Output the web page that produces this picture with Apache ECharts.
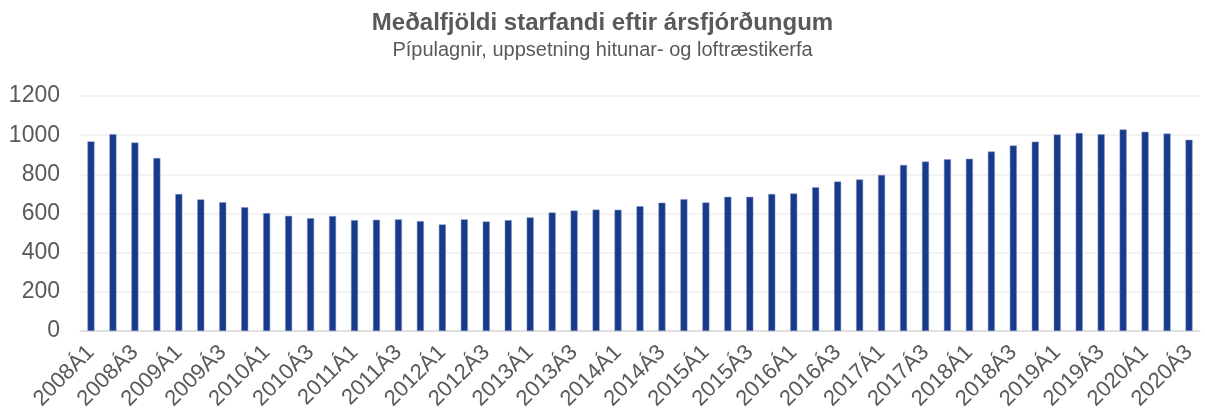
<!DOCTYPE html>
<html>
<head>
<meta charset="utf-8">
<script src="https://cdn.jsdelivr.net/npm/echarts@6/dist/echarts.min.js"></script>
<style>
  html, body { margin: 0; padding: 0; background: #fff; }
  #chart { width: 1205px; height: 418px; }
</style>
</head>
<body>
<div id="chart"></div>
<script>
const years = [2008, 2009, 2010, 2011, 2012, 2013, 2014, 2015, 2016, 2017, 2018, 2019, 2020];
const quarters = [];
years.forEach((y) => {
  for (let q = 1; q <= 4; q++) {
    if (y === 2020 && q > 3) break;
    quarters.push(y + "Á" + q);
  }
});

const employed = [
  968, 1005, 962, 883,
  699, 672, 658, 632,
  602, 588, 576, 587,
  566, 568, 570, 561,
  544, 570, 559, 566,
  580, 605, 615, 620,
  619, 637, 655, 673,
  656, 685, 685, 700,
  702, 734, 763, 774,
  797, 848, 865, 877,
  879, 916, 947, 967,
  1003, 1011, 1005, 1029,
  1017, 1008, 976,
];

const yTicks = [0, 200, 400, 600, 800, 1000, 1200];

const chart = echarts.init(document.getElementById("chart"));

const textColor = "#595959";
const font = "Liberation Sans, Arial, sans-serif";

const option = {
  backgroundColor: "#fff",
  animation: false,
  title: {
    text: "Meðalfjöldi starfandi eftir ársfjórðungum",
    subtext: "Pípulagnir, uppsetning hitunar- og loftræstikerfa",
    left: "center",
    top: 6,
    itemGap: 5,
    textStyle: {
      color: textColor,
      fontSize: 24,
      fontWeight: "bold",
      fontFamily: font,
    },
    subtextStyle: {
      color: textColor,
      fontSize: 20,
      fontFamily: font,
    },
  },
  grid: {
    left: 80,
    right: 5,
    top: 96,
    bottom: 87,
    containLabel: false,
  },
  xAxis: {
    type: "category",
    data: quarters,
    axisLine: { show: true, lineStyle: { color: "#d9d9d9", width: 1.5 } },
    axisTick: { show: false },
    axisLabel: {
      interval: 1,
      rotate: 45,
      margin: 18,
      color: textColor,
      fontSize: 22,
      fontFamily: font,
    },
  },
  yAxis: {
    type: "value",
    min: yTicks[0],
    max: yTicks[yTicks.length - 1],
    interval: 200,
    axisLine: { show: false },
    axisTick: { show: false },
    axisLabel: {
      margin: 20,
      color: textColor,
      fontSize: 23,
      fontFamily: font,
      formatter: (v) => String(v),
    },
    splitLine: { show: true, lineStyle: { color: "#efefef", width: 1.5 } },
  },
  series: [
    {
      name: "Starfandi",
      type: "bar",
      data: employed,
      barWidth: 7,
      itemStyle: {
        color: "#183a8b",
        borderColor: "#7f93c2",
        borderWidth: 0.5,
      },
    },
  ],
};

chart.setOption(option);
</script>
</body>
</html>
